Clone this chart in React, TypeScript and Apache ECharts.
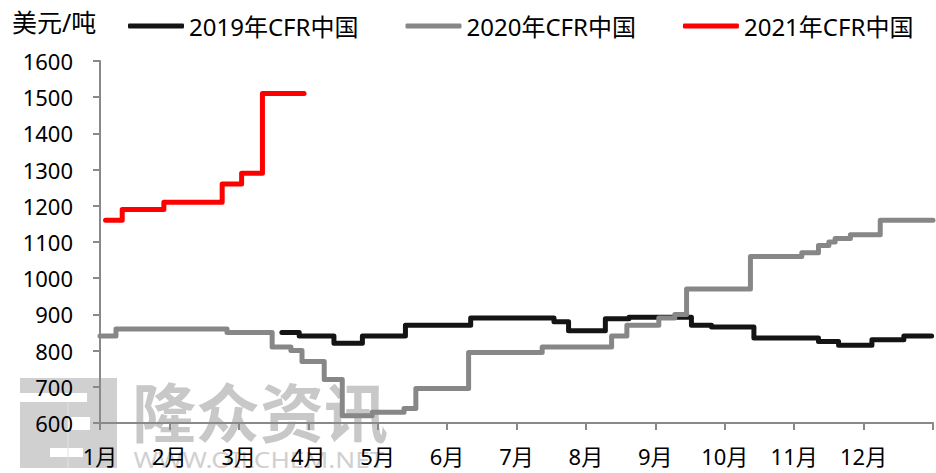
import React, { useEffect, useRef } from "react";
import * as echarts from "echarts";

const monthLabels = ["1月", "2月", "3月", "4月", "5月", "6月", "7月", "8月", "9月", "10月", "11月", "12月"];
const yTicks = [600, 700, 800, 900, 1000, 1100, 1200, 1300, 1400, 1500, 1600];

const seriesNames = ["2019年CFR中国", "2020年CFR中国", "2021年CFR中国"];
const seriesColors = ["#141414", "#878787", "#ff0000"];

// x position in months (0 = start of Jan), value holds from that point on
const x2019 = [2.62, 2.87, 3.37, 3.78, 4.40, 5.34, 6.54, 6.75, 7.28, 7.62, 8.52, 8.81, 9.42, 10.35, 10.64, 11.12, 11.58, 11.98];
const v2019 = [850, 840, 820, 840, 870, 890, 880, 855, 888, 892, 870, 865, 835, 825, 815, 830, 840, 840];

const x2020 = [0.0, 0.23, 1.83, 2.48, 2.75, 2.91, 3.23, 3.49, 3.92, 4.38, 4.55, 5.31, 6.37, 7.37, 7.59, 8.05, 8.28, 8.45, 9.37, 10.11, 10.35, 10.5, 10.59, 10.81, 11.24, 12.0];
const v2020 = [840, 860, 850, 810, 800, 770, 720, 620, 630, 640, 695, 795, 810, 840, 870, 890, 900, 970, 1060, 1070, 1090, 1100, 1110, 1120, 1160, 1160];

const x2021 = [0.08, 0.32, 0.92, 1.76, 2.04, 2.34, 2.94];
const v2021 = [1160, 1190, 1210, 1260, 1290, 1510, 1510];

const xs = [x2019, x2020, x2021];
const vs = [v2019, v2020, v2021];

const FONT = "'Noto Sans', 'Noto Sans CJK SC', sans-serif";

export default function App() {
  const ref = useRef<HTMLDivElement>(null);
  useEffect(() => {
    if (!ref.current) return;
    const chart = echarts.init(ref.current, null, { renderer: "svg" });
    const wmGray = "#c8c8c8";
    chart.setOption({
      animation: false,
      backgroundColor: "#ffffff",
      textStyle: { fontFamily: FONT },
      grid: { left: 100, right: 2, top: 61, bottom: 50, containLabel: false },
      legend: {
        left: 123,
        top: 9,
        itemWidth: 56,
        itemHeight: 5,
        itemGap: 47,
        icon: "roundRect",
        data: seriesNames,
        textStyle: { fontFamily: FONT, fontSize: 24, color: "#000" },
      },
      xAxis: {
        type: "value",
        min: 0,
        max: 12,
        interval: 1,
        axisLine: { show: true, lineStyle: { color: "#898989", width: 2 } },
        axisTick: { show: true, length: 7, lineStyle: { color: "#898989", width: 2 } },
        splitLine: { show: false },
        axisLabel: {
          margin: 22,
          fontSize: 22,
          color: "#000",
          fontFamily: FONT,
          formatter: (v: number) => (v < 12 ? monthLabels[Math.round(v)] : ""),
        },
      },
      yAxis: {
        type: "value",
        min: yTicks[0],
        max: yTicks[yTicks.length - 1],
        interval: 100,
        axisLine: { show: true, lineStyle: { color: "#898989", width: 2 } },
        axisTick: { show: true, length: 7, lineStyle: { color: "#898989", width: 2 } },
        splitLine: { show: false },
        axisLabel: { margin: 27, fontSize: 22, color: "#000", fontFamily: FONT, formatter: (v: number) => String(v) },
      },
      graphic: [
        { type: "text", left: 12, top: 9, z: 10, style: { text: "美元/吨", fontSize: 25, fontFamily: FONT, fill: "#000" } },
        // watermark logo
        { type: "rect", z: -10, shape: { x: 20, y: 378, width: 97, height: 90 }, style: { fill: wmGray, opacity: 0.85 } },
        { type: "rect", z: -9, shape: { x: 18, y: 393, width: 69, height: 9 }, style: { fill: "#ffffff" } },
        { type: "rect", z: -9, shape: { x: 68, y: 417, width: 22, height: 13 }, style: { fill: "#ffffff" } },
        { type: "rect", z: -9, shape: { x: 50, y: 448, width: 33, height: 9 }, style: { fill: "#ffffff" } },
        { type: "line", z: -9, shape: { x1: 68, y1: 402, x2: 68, y2: 468 }, style: { stroke: "#e2e2e2", lineWidth: 1 } },
        {
          type: "text", z: -10, x: 260, y: 409,
          style: { text: "隆众资讯", fontSize: 64, fontWeight: "bold", fontFamily: "'Noto Sans CJK SC', sans-serif", fill: wmGray, align: "center", verticalAlign: "middle" },
        },
        {
          type: "text", z: -10, x: 259, y: 460, scaleX: 1.25,
          style: { text: "WWW.OILCHEM.NET", fontSize: 21, fontFamily: FONT, fill: "#d0d0d0", align: "center", verticalAlign: "middle" },
        },
      ],
      series: seriesNames.map((name, i) => ({
        name,
        type: "line",
        step: "end",
        showSymbol: false,
        symbol: "none",
        color: seriesColors[i],
        z: 2 + i,
        lineStyle: { color: seriesColors[i], width: 5, cap: "round", join: "round" },
        data: xs[i].map((x, j) => [x, vs[i][j]]),
      })),
    });
    return () => chart.dispose();
  }, []);
  return <div ref={ref} style={{ width: 936, height: 473, position: "absolute", left: 0, top: 0 }} />;
}
